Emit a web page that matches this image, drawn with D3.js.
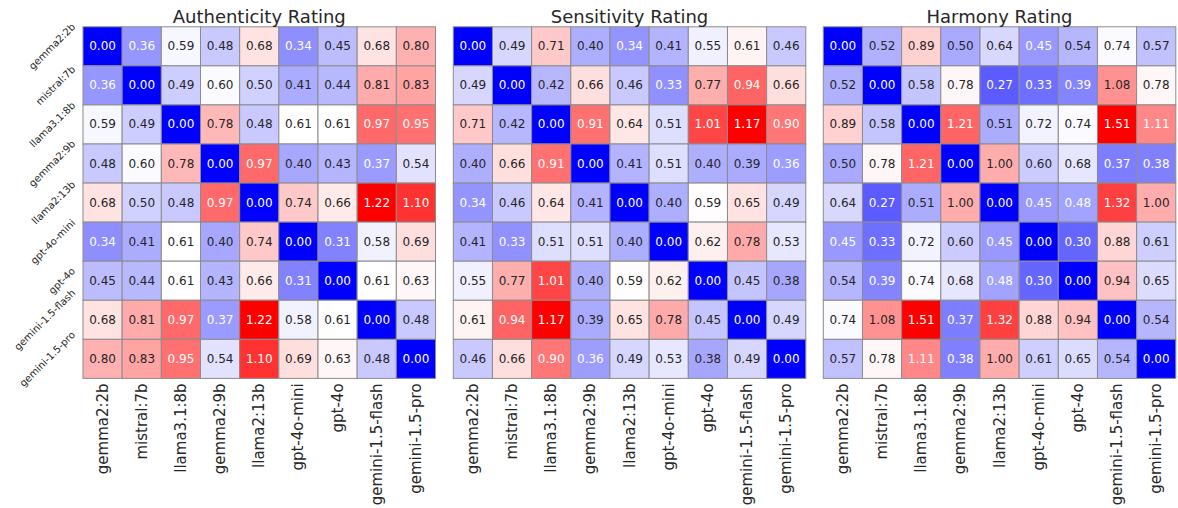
<!DOCTYPE html>
<html>
<head>
<meta charset="utf-8">
<script src="https://cdn.jsdelivr.net/npm/d3@7"></script>
<style>
  html, body { margin: 0; padding: 0; background: #fff; }
  svg { display: block; font-family: "DejaVu Sans", sans-serif; }
</style>
</head>
<body>
<svg id="chart" width="1178" height="508"></svg>
<script>
const models = ["gemma2:2b", "mistral:7b", "llama3.1:8b", "gemma2:9b", "llama2:13b",
  "gpt-4o-mini", "gpt-4o", "gemini-1.5-flash", "gemini-1.5-pro"];

const titles = ["Authenticity Rating", "Sensitivity Rating", "Harmony Rating"];

const authenticity = [
  [0.00, 0.36, 0.59, 0.48, 0.68, 0.34, 0.45, 0.68, 0.80],
  [0.36, 0.00, 0.49, 0.60, 0.50, 0.41, 0.44, 0.81, 0.83],
  [0.59, 0.49, 0.00, 0.78, 0.48, 0.61, 0.61, 0.97, 0.95],
  [0.48, 0.60, 0.78, 0.00, 0.97, 0.40, 0.43, 0.37, 0.54],
  [0.68, 0.50, 0.48, 0.97, 0.00, 0.74, 0.66, 1.22, 1.10],
  [0.34, 0.41, 0.61, 0.40, 0.74, 0.00, 0.31, 0.58, 0.69],
  [0.45, 0.44, 0.61, 0.43, 0.66, 0.31, 0.00, 0.61, 0.63],
  [0.68, 0.81, 0.97, 0.37, 1.22, 0.58, 0.61, 0.00, 0.48],
  [0.80, 0.83, 0.95, 0.54, 1.10, 0.69, 0.63, 0.48, 0.00]
];

const sensitivity = [
  [0.00, 0.49, 0.71, 0.40, 0.34, 0.41, 0.55, 0.61, 0.46],
  [0.49, 0.00, 0.42, 0.66, 0.46, 0.33, 0.77, 0.94, 0.66],
  [0.71, 0.42, 0.00, 0.91, 0.64, 0.51, 1.01, 1.17, 0.90],
  [0.40, 0.66, 0.91, 0.00, 0.41, 0.51, 0.40, 0.39, 0.36],
  [0.34, 0.46, 0.64, 0.41, 0.00, 0.40, 0.59, 0.65, 0.49],
  [0.41, 0.33, 0.51, 0.51, 0.40, 0.00, 0.62, 0.78, 0.53],
  [0.55, 0.77, 1.01, 0.40, 0.59, 0.62, 0.00, 0.45, 0.38],
  [0.61, 0.94, 1.17, 0.39, 0.65, 0.78, 0.45, 0.00, 0.49],
  [0.46, 0.66, 0.90, 0.36, 0.49, 0.53, 0.38, 0.49, 0.00]
];

const harmony = [
  [0.00, 0.52, 0.89, 0.50, 0.64, 0.45, 0.54, 0.74, 0.57],
  [0.52, 0.00, 0.58, 0.78, 0.27, 0.33, 0.39, 1.08, 0.78],
  [0.89, 0.58, 0.00, 1.21, 0.51, 0.72, 0.74, 1.51, 1.11],
  [0.50, 0.78, 1.21, 0.00, 1.00, 0.60, 0.68, 0.37, 0.38],
  [0.64, 0.27, 0.51, 1.00, 0.00, 0.45, 0.48, 1.32, 1.00],
  [0.45, 0.33, 0.72, 0.60, 0.45, 0.00, 0.30, 0.88, 0.61],
  [0.54, 0.39, 0.74, 0.68, 0.48, 0.30, 0.00, 0.94, 0.65],
  [0.74, 1.08, 1.51, 0.37, 1.32, 0.88, 0.94, 0.00, 0.54],
  [0.57, 0.78, 1.11, 0.38, 1.00, 0.61, 0.65, 0.54, 0.00]
];

const matrices = [authenticity, sensitivity, harmony];

// ---- layout ----
const panelLeft = [83, 453.3, 823.3];
const panelTop = 26.8;
const panelW = 352.5;
const panelH = 351.6;
const dark = "#262626";

const svg = d3.select("#chart");

function lin(c) {
  c = c / 255;
  return c <= 0.03928 ? c / 12.92 : Math.pow((c + 0.055) / 1.055, 2.4);
}
function luminance(col) {
  const c = d3.rgb(col);
  return 0.2126 * lin(c.r) + 0.7152 * lin(c.g) + 0.0722 * lin(c.b);
}

matrices.forEach((mat, pi) => {
  const vmax = d3.max(mat.flat());
  const vmin = d3.min(mat.flat());
  const color = d3.scaleLinear()
    .domain([vmin, (vmin + vmax) / 2, vmax])
    .range(["#0000ff", "#ffffff", "#ff0000"])
    .interpolate(d3.interpolateRgb);

  const x = d3.scaleBand().domain(models).range([0, panelW]);
  const y = d3.scaleBand().domain(models).range([0, panelH]);

  const g = svg.append("g").attr("transform", `translate(${panelLeft[pi]},${panelTop})`);

  const cells = [];
  mat.forEach((row, ri) => row.forEach((v, ci) => cells.push({ r: models[ri], c: models[ci], v })));

  g.selectAll("rect.cell").data(cells).enter().append("rect")
    .attr("class", "cell")
    .attr("x", d => x(d.c))
    .attr("y", d => y(d.r))
    .attr("width", x.bandwidth())
    .attr("height", y.bandwidth())
    .attr("fill", d => color(d.v))
    .attr("stroke", "#8c8c8c")
    .attr("stroke-width", 1);

  g.selectAll("text.val").data(cells).enter().append("text")
    .attr("class", "val")
    .attr("x", d => x(d.c) + x.bandwidth() / 2)
    .attr("y", d => y(d.r) + y.bandwidth() / 2)
    .attr("text-anchor", "middle")
    .attr("dominant-baseline", "central")
    .attr("font-size", 12)
    .attr("fill", d => luminance(color(d.v)) > 0.408 ? dark : "#ffffff")
    .text(d => d.v.toFixed(2));

  // title
  g.append("text")
    .attr("x", panelW / 2)
    .attr("y", -3.5)
    .attr("text-anchor", "middle")
    .attr("font-size", 18)
    .attr("fill", dark)
    .text(titles[pi]);

  // x tick labels
  g.selectAll("text.xl").data(models).enter().append("text")
    .attr("class", "xl")
    .attr("transform", d => `translate(${x(d) + x.bandwidth() / 2},${panelH + 5}) rotate(-90)`)
    .attr("text-anchor", "end")
    .attr("dominant-baseline", "central")
    .attr("font-size", 15)
    .attr("fill", dark)
    .text(d => d);

  // y tick labels (first panel only)
  if (pi === 0) {
    const fs = 10;
    const h = fs * 1.16;
    const xr = -5.5;
    const yl = g.selectAll("text.yl").data(models).enter().append("text")
      .attr("class", "yl")
      .attr("text-anchor", "middle")
      .attr("dominant-baseline", "central")
      .attr("font-size", fs)
      .attr("fill", dark)
      .text(d => d);
    yl.each(function (d) {
      const L = this.getComputedTextLength();
      const bw = (L + h) / Math.SQRT2;
      const cx = xr - bw / 2;
      const cy = y(d) + y.bandwidth() / 2;
      d3.select(this).attr("transform", `translate(${cx},${cy}) rotate(-45)`);
    });
  }
});
</script>
</body>
</html>
